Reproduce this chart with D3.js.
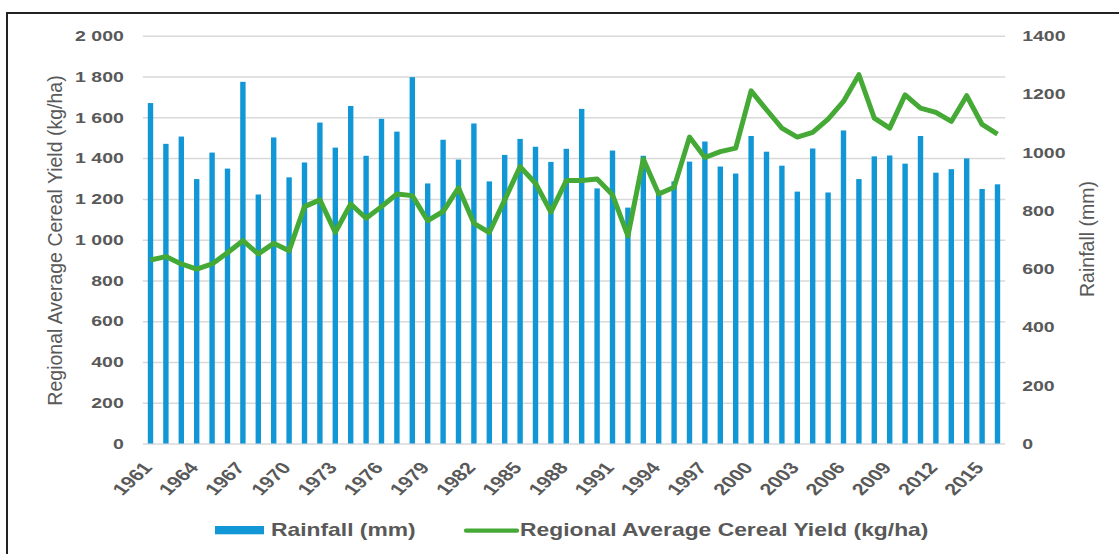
<!DOCTYPE html>
<html>
<head>
<meta charset="utf-8">
<script src="https://cdn.jsdelivr.net/npm/d3@7"></script>
<style>
  body { margin: 0; background: #fff; }
  svg { display: block; font-family: "Liberation Sans", Arial, sans-serif; }
  .tick text { fill: #595959; font-weight: bold; font-size: 15px; }
  .grid line { stroke: #d9d9d9; stroke-width: 1.5; }
</style>
</head>
<body>
<script>
// years 1961 - 2016
const years = d3.range(1961, 2017);

// rainfall in mm (right axis)
const rainfall = [
  1169, 1029, 1054, 908, 999, 944, 1242, 855, 1051, 914,
  965, 1102, 1016, 1159, 988, 1115, 1071, 1258, 893, 1043,
  975, 1099, 900, 991, 1046, 1019, 967, 1012, 1149, 876,
  1006, 810, 988, 868, 900, 968, 1037, 951, 927, 1056,
  1002, 954, 865, 1013, 862, 1075, 908, 986, 989, 961,
  1056, 930, 942, 979, 874, 890
];

// regional average cereal yield in kg/ha (left axis)
const cerealYield = [
  900, 917, 881, 856, 881, 936, 995, 930, 982, 946,
  1162, 1195, 1036, 1175, 1105, 1162, 1224, 1216, 1093, 1138,
  1254, 1080, 1035, 1195, 1358, 1277, 1135, 1290, 1290, 1297,
  1220, 1018, 1396, 1224, 1257, 1503, 1403, 1432, 1449, 1730,
  1637, 1547, 1503, 1526, 1591, 1678, 1809, 1596, 1547, 1710,
  1645, 1624, 1580, 1706, 1565, 1518
];

const leftTicks = [0, 200, 400, 600, 800, 1000, 1200, 1400, 1600, 1800, 2000];
const rightTicks = [0, 200, 400, 600, 800, 1000, 1200, 1400];
const labelYears = years.filter(y => (y - 1961) % 3 === 0);

let width = 1119, height = 554;
let plotLeft = 142.8, plotRight = 1005.2, plotTop = 35.8, plotBottom = 443.5;
let sx = 1.3; // horizontal stretch of labels

let svg = d3.select('body').append('svg')
  .attr('width', width)
  .attr('height', height);

// frame
svg.append('rect')
  .attr('x', 7).attr('y', 13)
  .attr('width', 1130).attr('height', 600)
  .attr('fill', 'none')
  .attr('stroke', '#222')
  .attr('stroke-width', 2);

let x = d3.scaleBand()
  .domain(years)
  .range([plotLeft, plotRight])
  .paddingInner(0.65)
  .paddingOuter(0.325);

let yLeft = d3.scaleLinear().domain([0, 2000]).range([plotBottom, plotTop]);
let yRight = d3.scaleLinear().domain([0, 1400]).range([plotBottom, plotTop]);

let spaceFormat = d3.formatLocale({ decimal: '.', thousands: ' ', grouping: [3], currency: ['', ''] }).format(',');

// grid + left labels
let gLeft = svg.append('g')
  .attr('class', 'grid')
  .attr('transform', 'translate(' + plotLeft + ',0)')
  .call(d3.axisLeft(yLeft).tickValues(leftTicks).tickFormat(spaceFormat)
    .tickSize(-(plotRight - plotLeft)).tickPadding(0));
gLeft.select('.domain').remove();
gLeft.selectAll('.tick text')
  .attr('x', 0)
  .attr('transform', 'translate(-19,0) scale(' + sx + ',1)');

// bars
svg.append('g').selectAll('rect')
  .data(years)
  .enter()
  .append('rect')
  .attr('x', (d) => x(d))
  .attr('width', x.bandwidth())
  .attr('y', (d, i) => yRight(rainfall[i]))
  .attr('height', (d, i) => plotBottom - yRight(rainfall[i]))
  .attr('fill', '#1197d5');

// line
let line = d3.line()
  .x((d, i) => x(years[i]) + x.bandwidth() / 2)
  .y((d) => yLeft(d));

svg.append('path')
  .datum(cerealYield)
  .attr('d', line)
  .attr('fill', 'none')
  .attr('stroke', '#45a935')
  .attr('stroke-width', 5)
  .attr('stroke-linejoin', 'round');

// right labels
let gRight = svg.append('g')
  .attr('transform', 'translate(' + plotRight + ',0)')
  .call(d3.axisRight(yRight).tickValues(rightTicks).tickFormat(d3.format('d'))
    .tickSize(0).tickPadding(0));
gRight.select('.domain').remove();
gRight.selectAll('.tick text')
  .attr('x', 0)
  .attr('transform', 'translate(17,0) scale(' + sx + ',1)');

// x labels
let gX = svg.append('g')
  .attr('transform', 'translate(0,' + plotBottom + ')')
  .call(d3.axisBottom(x).tickValues(labelYears).tickSize(0).tickPadding(0));
gX.select('.domain').remove();
gX.selectAll('.tick text')
  .attr('y', 0)
  .attr('dy', '0.35em')
  .attr('text-anchor', 'end')
  .style('font-size', '16.5px')
  .attr('transform', 'translate(-3,21) scale(' + sx + ',1) rotate(-50)');

// axis titles
svg.append('text')
  .attr('text-anchor', 'middle')
  .attr('transform', 'translate(61.5,240.5)rotate(-90)')
  .attr('font-size', 19.5)
  .attr('fill', '#595959')
  .text('Regional Average Cereal Yield (kg/ha)');

svg.append('text')
  .attr('text-anchor', 'middle')
  .attr('transform', 'translate(1094,239)rotate(-90)')
  .attr('font-size', 19.5)
  .attr('fill', '#595959')
  .text('Rainfall (mm)');

// legend
let legend = svg.append('g');
legend.append('rect')
  .attr('x', 215).attr('y', 526)
  .attr('width', 49).attr('height', 8.3)
  .attr('fill', '#1197d5');
legend.append('text')
  .attr('transform', 'translate(271,536) scale(1.27,1)')
  .attr('font-size', 18)
  .attr('font-weight', 'bold')
  .attr('fill', '#595959')
  .text('Rainfall (mm)');
legend.append('line')
  .attr('x1', 466).attr('x2', 517)
  .attr('y1', 530.7).attr('y2', 530.7)
  .attr('stroke', '#45a935')
  .attr('stroke-width', 4.3)
  .attr('stroke-linecap', 'round');
legend.append('text')
  .attr('transform', 'translate(520,536) scale(1.27,1)')
  .attr('font-size', 18)
  .attr('font-weight', 'bold')
  .attr('fill', '#595959')
  .text('Regional Average Cereal Yield (kg/ha)');
</script>
</body>
</html>
